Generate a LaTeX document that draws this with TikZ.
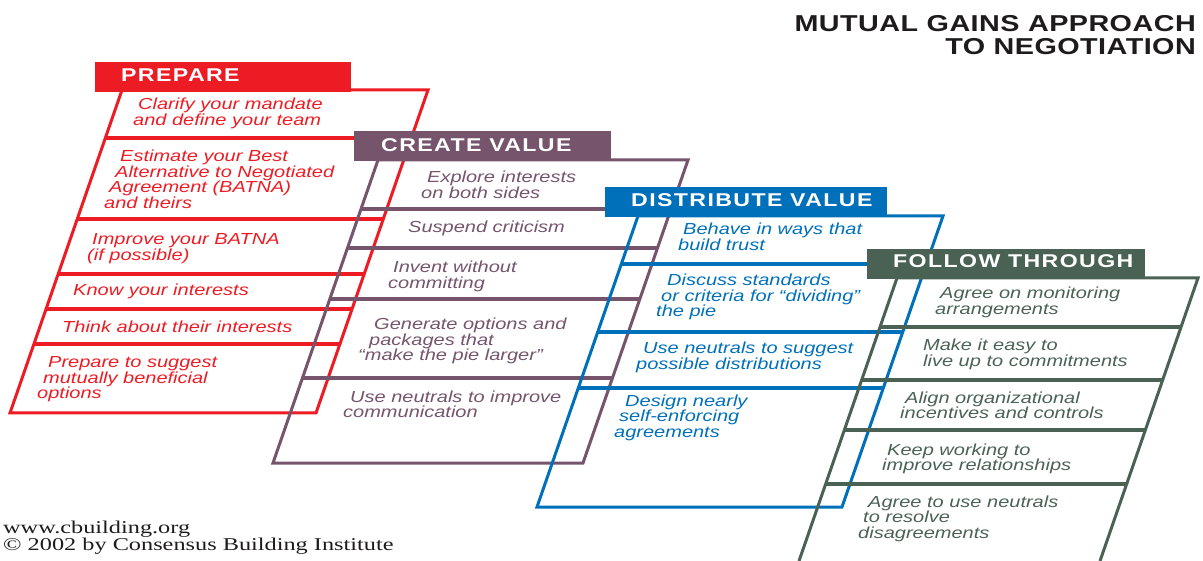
\documentclass[tikz,border=0pt]{standalone}
\usepackage{fontspec}
\setmainfont{Liberation Serif}
\newfontfamily\footfont{Liberation Serif}[FakeStretch=1.35]
\newfontfamily\rowfont{Liberation Sans}[FakeStretch=1.25]
\newfontfamily\headfont{Liberation Sans}[FakeStretch=1.25,LetterSpace=7.5]
\newfontfamily\titlefont{Liberation Sans}[FakeStretch=1.25,LetterSpace=2]
\usetikzlibrary{positioning}

\definecolor{prepred}{RGB}{237,28,36}
\definecolor{createpurple}{RGB}{117,84,108}
\definecolor{distblue}{RGB}{0,112,186}
\definecolor{followgreen}{RGB}{74,98,83}
\definecolor{inkblack}{RGB}{30,27,28}

\newcommand{\rowbreak}[1]{\\\hspace*{-#1pt}}

\begin{document}
\begin{tikzpicture}[x=1pt,y=-1pt,
    edge/.style={line width=3pt,line join=miter},
    sep/.style={line width=3.2pt},
    head/.style={inner sep=0pt,anchor=base west,text=white,
      font=\headfont\bfseries\fontsize{18.5}{18.5}\selectfont},
    row/.style={inner sep=0pt,anchor=base west,align=left,
      font=\rowfont\itshape\fontsize{16}{15.5}\selectfont}]
    \useasboundingbox (0,0) rectangle (1203,561);

    % title and footer (placed at the baseline of their last line)
    \node[inner sep=0pt,anchor=base east,align=right,text=inkblack,
      font=\titlefont\bfseries\fontsize{23}{23}\selectfont] (title) at (1196,55)
      {MUTUAL GAINS APPROACH\\TO NEGOTIATION};
    \node[inner sep=0pt,anchor=base west,align=left,text=inkblack,
      font=\footfont\fontsize{18}{17}\selectfont] (footer) at (3,550)
      {www.cbuilding.org\\© 2002 by Consensus Building Institute};

    % prepare
    \draw[prepred,edge] (122,90) -- (428,90) -- (316,413) -- (10,413) -- cycle;
    \foreach \y in {138,219,274,309,344}
      \draw[prepred,sep] ({122-0.347*(\y-90)},\y) -- ({428-0.347*(\y-90)},\y);
    \fill[prepred] (95,62) rectangle (351,92);
    \node[head] (prephead) at (121,82) {PREPARE};
    \node[row,prepred] (prep1) at (138,125.5) {Clarify your mandate\rowbreak{5}and define your team};
    \node[row,prepred] (prep2) at (120,208.5) {Estimate your Best\rowbreak{5}Alternative to Negotiated\rowbreak{11}Agreement (BATNA)\rowbreak{16}and theirs};
    \node[row,prepred] (prep3) at (92,260.5) {Improve your BATNA\rowbreak{5}(if possible)};
    \node[row,prepred] (prep4) at (73,296) {Know your interests};
    \node[row,prepred] (prep5) at (62,333) {Think about their interests};
    \node[row,prepred] (prep6) at (48,399) {Prepare to suggest\rowbreak{5}mutually beneficial\rowbreak{11}options};

    % create value
    \draw[createpurple,edge] (378,160) -- (688,160) -- (583,463) -- (273,463) -- cycle;
    \foreach \y in {209,248,299,378}
      \draw[createpurple,sep] ({378-0.347*(\y-160)},\y) -- ({688-0.347*(\y-160)},\y);
    \fill[createpurple] (354,131) rectangle (611,161);
    \node[head] (createhead) at (381,152) {CREATE VALUE};
    \node[row,createpurple] (create1) at (427,198.5) {Explore interests\rowbreak{6}on both sides};
    \node[row,createpurple] (create2) at (408,233) {Suspend criticism};
    \node[row,createpurple] (create3) at (393,288.5) {Invent without\rowbreak{5}committing};
    \node[row,createpurple] (create4) at (374,361) {Generate options and\rowbreak{5}packages that\rowbreak{16}“make the pie larger”};
    \node[row,createpurple] (create5) at (350,417.5) {Use neutrals to improve\rowbreak{7}communication};

    % distribute value
    \draw[distblue,edge] (638,216) -- (943,216) -- (842,507) -- (537,507) -- cycle;
    \foreach \y in {264,332,388}
      \draw[distblue,sep] ({638-0.347*(\y-216)},\y) -- ({943-0.347*(\y-216)},\y);
    \fill[distblue] (605,187) rectangle (887,217);
    \node[head] (disthead) at (631,207) {DISTRIBUTE VALUE};
    \node[row,distblue] (dist1) at (683,250.5) {Behave in ways that\rowbreak{5}build trust};
    \node[row,distblue] (dist2) at (667,317) {Discuss standards\rowbreak{6}or criteria for “dividing”\rowbreak{11}the pie};
    \node[row,distblue] (dist3) at (643,369.5) {Use neutrals to suggest\rowbreak{7}possible distributions};
    \node[row,distblue] (dist4) at (625,437) {Design nearly\rowbreak{6}self-enforcing\rowbreak{11}agreements};

    % follow through
    \draw[followgreen,edge] (799,561) -- (897,278) -- (1198,278) -- (1100,561);
    \foreach \y in {327,380,430,484}
      \draw[followgreen,sep] ({897-0.347*(\y-278)},\y) -- ({1198-0.347*(\y-278)},\y);
    \fill[followgreen] (867,249) rectangle (1145,279);
    \node[head] (followhead) at (893,268) {FOLLOW THROUGH};
    \node[row,followgreen] (follow1) at (940,314.5) {Agree on monitoring\rowbreak{5}arrangements};
    \node[row,followgreen] (follow2) at (923,366.5) {Make it easy to\rowbreak{0}live up to commitments};
    \node[row,followgreen] (follow3) at (905,418.5) {Align organizational\rowbreak{5}incentives and controls};
    \node[row,followgreen] (follow4) at (887,470.5) {Keep working to\rowbreak{5}improve relationships};
    \node[row,followgreen] (follow5) at (868,538) {Agree to use neutrals\rowbreak{5}to resolve\rowbreak{10}disagreements};
  \end{tikzpicture}
\end{document}
